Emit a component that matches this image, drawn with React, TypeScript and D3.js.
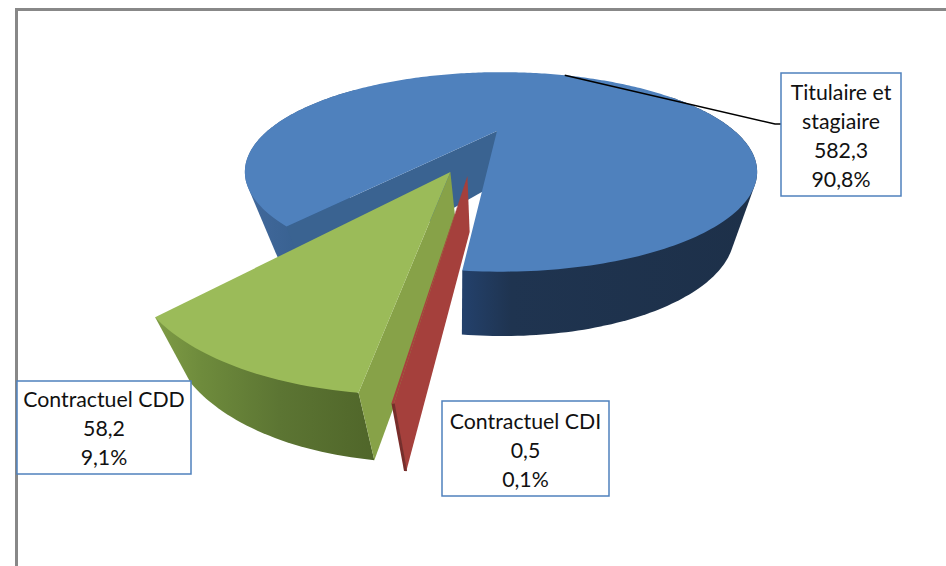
import React from "react";
import * as d3 from "d3";

const categories = ["Titulaire et stagiaire", "Contractuel CDI", "Contractuel CDD"];
const values = [582.3, 0.5, 58.2];
const labelLines = [["Titulaire et", "stagiaire"], ["Contractuel CDI"], ["Contractuel CDD"]];

const width = 946;
const height = 566;

// slice 0 starts here, clockwise from 12 o'clock
const startDeg = 218.6;
const rad = (d: number) => (d * Math.PI) / 180;

// perspective of the top face and of the bottom face of the pie
const topPlane = { cx: 501, cy: 131, rx: 233.6, ry: 83, k: 0.41 };
const botPlane = { cx: 503, cy: 192, rx: 211, ry: 85, k: 0.41 };

const explodeDist = [0, 0.458, 0.443];
const explodeDir = [0, 194.9, 202];
const radius = [1, 0.96, 0.97];
const spin = [0, 1, 0]; // the thin slice sits a bit off its computed angle

// small nudges of the slice tips, the picture is not a pure projection
const apexTopNudge = [[-4, 0], [0, 0], [-4, 0]];
const apexBotNudge = [[0, -12], [-3, -6], [-4, 0]];

const topColor = ["#4f81bd", "#a8403d", "#9bbb59"];
const sideColor = ["#3a6391", "#a5403c", "#87a248"];

const boxes = [
  { x: 781, y: 73, w: 120, h: 123, line0: 93 },
  { x: 442, y: 401, w: 167, h: 95, line0: 422 },
  { x: 17, y: 381, w: 174, h: 93, line0: 400 },
];

const fr = d3.formatLocale({ decimal: ",", thousands: " ", grouping: [3], currency: ["", " €"] });
const fmtValue = fr.format(".1f");
const fmtPct = fr.format(".1%");

type Plane = typeof topPlane;
type Pt = [number, number];

function project(p: Plane, i: number, deg: number, r: number): Pt {
  const a = rad(deg);
  const e = rad(explodeDir[i]);
  const X = Math.sin(a) * r + Math.sin(e) * explodeDist[i];
  const Y = -Math.cos(a) * r - Math.cos(e) * explodeDist[i];
  const w = 1 - p.k * Y;
  return [p.cx + (p.rx * X) / w, p.cy + (p.ry * Y) / w];
}

const line = d3.line().curve(d3.curveLinear);
const hullPath = (pts: Pt[]) => line(d3.polygonHull(pts) as Pt[]) + "Z";

export default function App() {
  const total = d3.sum(values);
  const arcs = d3
    .pie<number>()
    .sort(null)
    .startAngle(rad(startDeg))
    .endAngle(rad(startDeg) + 2 * Math.PI)(values);

  const slices = arcs.map((arc, i) => {
    const a0 = (arc.startAngle * 180) / Math.PI - spin[i];
    const a1 = (arc.endAngle * 180) / Math.PI - spin[i];
    const n = Math.max(2, Math.ceil(a1 - a0));
    const angles = d3.range(n + 1).map((j) => a0 + ((a1 - a0) * j) / n);
    const r = radius[i];
    const topAt = (a: number) => project(topPlane, i, a, r);
    const botAt = (a: number) => project(botPlane, i, a, r);

    // the big slice has two separate visible stretches of outer wall
    const outer =
      i === 0
        ? [
            hullPath(angles.filter((a) => a <= a0 + 90).flatMap((a) => [topAt(a), botAt(a)])),
            hullPath([
              ...angles.filter((a) => a >= a1 - 125).flatMap((a) => [topAt(a), botAt(a)]),
              botAt(a1 + 1),
            ]),
          ]
        : [hullPath(angles.flatMap((a) => [topAt(a), botAt(a)]))];

    const t = project(topPlane, i, a0, 0);
    const b = project(botPlane, i, a0, 0);
    const apexTop: Pt = [t[0] + apexTopNudge[i][0], t[1] + apexTopNudge[i][1]];
    const apexBot: Pt = [b[0] + apexBotNudge[i][0], b[1] + apexBotNudge[i][1]];
    return {
      i,
      a0,
      a1,
      top: line([apexTop, ...angles.map(topAt)]) + "Z",
      outer,
      wall: line([apexTop, topAt(a0), botAt(a0), apexBot]) + "Z",
      rim: line([topAt(a0), botAt(a0)]),
    };
  });

  const blueMid = (slices[0].a0 + slices[0].a1) / 2;
  const leader = line([project(topPlane, 0, blueMid, 1), [775, 124], [781, 124]]);

  const drawOrder = [0, 2, 1];

  return (
    <svg
      width={width}
      height={height}
      style={{ position: "absolute", left: 0, top: 0, background: "#fff" }}
      fontFamily="Lato, 'Noto Sans', sans-serif"
    >
      <defs>
        <linearGradient id="wall0" gradientUnits="userSpaceOnUse" x1={245} x2={757} y1={0} y2={0}>
          <stop offset="0" stopColor="#42699c" />
          <stop offset="0.12" stopColor="#37608f" />
          <stop offset="0.43" stopColor="#23406a" />
          <stop offset="0.52" stopColor="#1f3450" />
          <stop offset="1" stopColor="#1d3049" />
        </linearGradient>
        <linearGradient id="wall2" gradientUnits="userSpaceOnUse" x1={157} x2={380} y1={0} y2={0}>
          <stop offset="0" stopColor="#7e9b45" />
          <stop offset="0.2" stopColor="#6e8b3c" />
          <stop offset="0.55" stopColor="#5c7533" />
          <stop offset="1" stopColor="#4f6529" />
        </linearGradient>
      </defs>

      <path d={`M16.5,${height}V9.5H${width}`} fill="none" stroke="#888888" strokeWidth={3} />

      {drawOrder.map((i) => {
        const s = slices[i];
        return (
          <g key={categories[i]}>
            {s.outer.map((d, j) => (
              <path key={j} d={d} fill={i === 1 ? "#7a2c2a" : `url(#wall${i})`} />
            ))}
            <path d={s.wall} fill={sideColor[i]} />
            <path d={s.top} fill={topColor[i]} />
            {i === 1 && <path d={s.rim} stroke="#74302d" strokeWidth={1.5} fill="none" />}
          </g>
        );
      })}

      <path d={leader} fill="none" stroke="#000" strokeWidth={1.6} />

      {boxes.map((b, i) => {
        const lines = [...labelLines[i], fmtValue(values[i]), fmtPct(values[i] / total)];
        return (
          <g key={categories[i]}>
            <rect x={b.x} y={b.y} width={b.w} height={b.h} fill="#fff" stroke="#4f81bd" strokeWidth={1.5} />
            {lines.map((t, j) => (
              <text
                key={j}
                x={b.x + b.w / 2}
                y={b.line0 + j * 29}
                dy="0.35em"
                textAnchor="middle"
                fontSize={21.3}
                fill="#111"
              >
                {t}
              </text>
            ))}
          </g>
        );
      })}
    </svg>
  );
}
